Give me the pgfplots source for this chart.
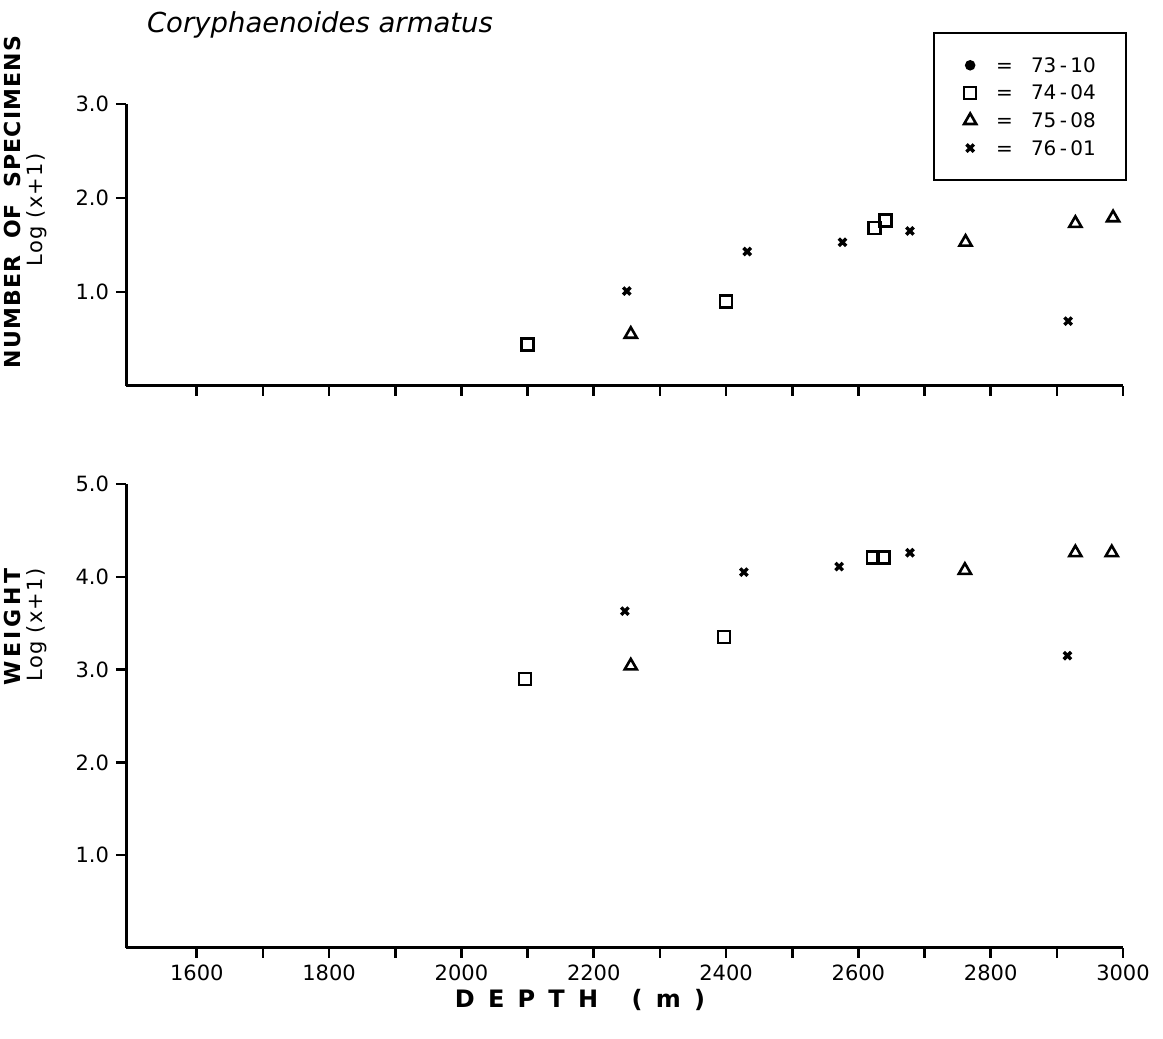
\documentclass[border=0pt]{standalone}
\usepackage{fontspec}
\setmainfont{DejaVu Sans}
\usepackage{pgfplots}
\pgfplotsset{compat=1.18}
\begin{document}
\begin{tikzpicture}
\useasboundingbox (0,0) rectangle (581.5pt,519.5pt);
\pgfplotsset{
  myax/.style={
    scale only axis, width=498.5pt, xmin=1493, xmax=3000, ymin=0,
    axis x line=bottom, axis y line=left,
    axis line style={-, line width=1.5pt, black},
    tick align=outside, major tick length=5pt, minor tick length=5pt,
    tick style={line width=1.3pt, black},
    xtick={1600,1800,...,3000}, minor xtick={1700,1900,...,2900},
    tick label style={font=\fontsize{10.5}{12}\selectfont},
    /pgf/number format/assume math mode=true,
    clip=false,
  },
  sq/.style={only marks, mark=square, mark size=3pt, line width=1.3pt, black},
  tri/.style={only marks, mark=triangle, mark size=3.5pt, line width=1.3pt, black},
  xx/.style={only marks, mark=x, mark size=2.6pt, line width=1.7pt, black},
}
% Top panel: number of specimens
\begin{axis}[myax, at={(63pt,326.5pt)}, anchor=south west, height=141pt,
  ymax=3, ytick={1,2,3}, yticklabels={1.0,2.0,3.0}, xticklabels={},
  legend style={at={(1.004,1.255)}, anchor=north east, draw=black, line width=1.2pt,
    inner xsep=15pt, inner ysep=12.5pt, row sep=6.8pt,
    nodes={inner sep=0pt, text height=7pt, text depth=0pt},
    font=\fontsize{10}{12}\selectfont},
  legend cell align=left]
\addlegendimage{only marks, mark=*, mark size=2pt, black}
\addlegendentry{\hspace{10pt}=\hspace{9pt}73\,-\,10}
\addplot[sq] coordinates {(2100,0.44) (2400,0.90) (2624,1.68) (2641,1.76)};
\addlegendentry{\hspace{10pt}=\hspace{9pt}74\,-\,04}
\addplot[tri] coordinates {(2256,0.55) (2762,1.53) (2928,1.73) (2985,1.79)};
\addlegendentry{\hspace{10pt}=\hspace{9pt}75\,-\,08}
\addplot[xx] coordinates {(2250,1.01) (2432,1.43) (2576,1.53) (2678,1.65) (2917,0.69)};
\addlegendentry{\hspace{10pt}=\hspace{9pt}76\,-\,01}
\end{axis}
% Bottom panel: weight
\begin{axis}[myax, at={(63pt,45.5pt)}, anchor=south west, height=232pt,
  ymax=5, ytick={1,2,3,4,5}, yticklabels={1.0,2.0,3.0,4.0,5.0},
  xticklabels={1600,1800,2000,2200,2400,2600,2800,3000}]
\addplot[sq] coordinates {(2096,2.90) (2397,3.35) (2622,4.21) (2638,4.21)};
\addplot[tri] coordinates {(2256,3.04) (2761,4.07) (2928,4.26) (2983,4.26)};
\addplot[xx] coordinates {(2247,3.63) (2427,4.05) (2571,4.11) (2678,4.26) (2916,3.15)};
\end{axis}
% Texts
\node[font=\fontsize{13.75}{16}\selectfont\itshape] at (160pt,507pt) {Coryphaenoides armatus};
\node[rotate=90, font=\fontsize{11}{13}\selectfont\bfseries] at (6pt,418.5pt)
  {\addfontfeatures{LetterSpace=5}NUMBER\hspace{4pt} OF\hspace{4pt} SPECIMENS};
\node[rotate=90, font=\fontsize{10.5}{12}\selectfont] at (18.5pt,414.5pt)
  {\addfontfeatures{LetterSpace=6}Log (x+1)};
\node[rotate=90, font=\fontsize{11}{13}\selectfont\bfseries] at (6pt,206pt)
  {\addfontfeatures{LetterSpace=17}WEIGHT};
\node[rotate=90, font=\fontsize{10.5}{12}\selectfont] at (18.5pt,207pt)
  {\addfontfeatures{LetterSpace=6}Log (x+1)};
\node[font=\fontsize{12}{14}\selectfont\bfseries] at (290pt,19.5pt)
  {\addfontfeatures{LetterSpace=55}DEPTH\hspace{6pt} (m)};
\end{tikzpicture}
\end{document}
